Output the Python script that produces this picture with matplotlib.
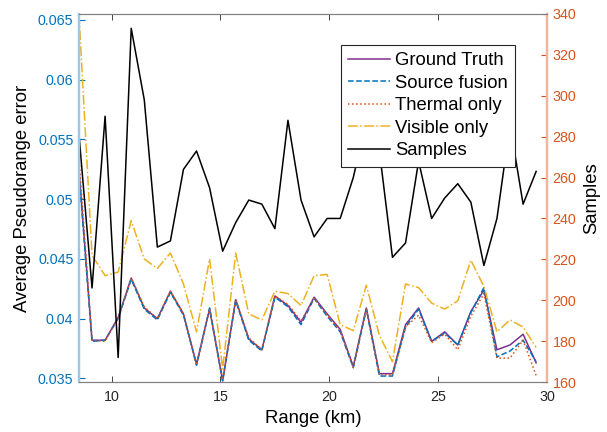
import numpy as np
import matplotlib.pyplot as plt

plt.rcParams['font.family'] = ['Liberation Sans', 'DejaVu Sans']

# range in km
rangeKm = 8.5 + 0.6 * np.arange(36)

groundTruth = [0.0525, 0.0382, 0.0382, 0.0401, 0.0434, 0.0409, 0.0400, 0.0423, 0.0404,
               0.0362, 0.0408, 0.0348, 0.0416, 0.0383, 0.0374, 0.0419, 0.0411, 0.0397,
               0.0418, 0.0404, 0.0391, 0.0360, 0.0409, 0.0354, 0.0354, 0.0395, 0.0409,
               0.0381, 0.0389, 0.0378, 0.0406, 0.0424, 0.0374, 0.0378, 0.0387, 0.0363]
sourceFusion = [0.0522, 0.0381, 0.0382, 0.0400, 0.0433, 0.0408, 0.0399, 0.0422, 0.0403,
                0.0361, 0.0409, 0.0348, 0.0415, 0.0382, 0.0373, 0.0418, 0.0410, 0.0395,
                0.0417, 0.0402, 0.0389, 0.0359, 0.0408, 0.0352, 0.0352, 0.0393, 0.0408,
                0.0381, 0.0388, 0.0378, 0.0405, 0.0426, 0.0368, 0.0373, 0.0382, 0.0364]
thermalOnly = [0.0535, 0.0382, 0.0381, 0.0401, 0.0434, 0.0410, 0.0400, 0.0423, 0.0404,
               0.0361, 0.0408, 0.0349, 0.0416, 0.0384, 0.0374, 0.0419, 0.0412, 0.0398,
               0.0417, 0.0403, 0.0390, 0.0359, 0.0408, 0.0353, 0.0353, 0.0393, 0.0403,
               0.0380, 0.0387, 0.0374, 0.0402, 0.0421, 0.0367, 0.0367, 0.0382, 0.03525]
visibleOnly = [0.0655, 0.0453, 0.0436, 0.0439, 0.0482, 0.0450, 0.0442, 0.0455, 0.0429,
               0.0389, 0.0450, 0.0358, 0.0455, 0.0404, 0.0399, 0.0423, 0.0421, 0.0411,
               0.0436, 0.0437, 0.0395, 0.0390, 0.0428, 0.0386, 0.0364, 0.0429, 0.0426,
               0.0413, 0.0408, 0.0415, 0.0449, 0.0427, 0.0389, 0.0399, 0.0393, 0.0376]
samples = [281, 206, 290, 172, 333, 298, 226, 229, 264, 273, 255, 224, 238, 249, 247, 235,
           288, 249, 231, 240, 240, 260, 288, 273, 221, 228, 268, 240, 250, 257, 248, 217,
           240, 286, 247, 263]

leftColor = '#0072BD'
rightColor = '#D95319'

fig = plt.figure(figsize=(6.07, 4.32), dpi=100)
ax = fig.add_axes([0.1301, 0.1157, 0.7711, 0.8519])

l1, = ax.plot(rangeKm, groundTruth, '-', color='#7E2F8E', lw=1.1, label='Ground Truth')
l2, = ax.plot(rangeKm, sourceFusion, '--', color='#0072BD', lw=1.1, label='Source fusion')
l3, = ax.plot(rangeKm, thermalOnly, ':', color='#D95319', lw=1.1, label='Thermal only')
l4, = ax.plot(rangeKm, visibleOnly, '-.', color='#EDB120', lw=1.1, label='Visible only')
ax.set_xlim(8.5, 30)
ax.set_ylim(0.0347, 0.0655)
ax.set_yticks([0.035, 0.04, 0.045, 0.05, 0.055, 0.06, 0.065])
ax.set_yticklabels(['0.035', '0.04', '0.045', '0.05', '0.055', '0.06', '0.065'])
ax.set_xticks([10, 15, 20, 25, 30])
ax.set_xlabel('Range (km)', fontsize=13.3)
ax.set_ylabel('Average Pseudorange error', fontsize=13.3, labelpad=5)

ax2 = ax.twinx()
l5, = ax2.plot(rangeKm, samples, '-', color='black', lw=1.1, label='Samples')
ax2.set_ylim(160, 340)
ax2.set_yticks(np.arange(160, 341, 20))
ax2.set_ylabel('Samples', fontsize=13.3, labelpad=5)

ax.tick_params(axis='x', direction='in', top=True, labelsize=10.3, colors='#262626',
               length=4, width=0.6, pad=6)
ax.tick_params(axis='y', direction='in', labelsize=10.3, colors=leftColor, length=4,
               width=0.8, pad=4)
ax2.tick_params(axis='y', direction='in', labelsize=10.3, colors=rightColor, length=4,
                width=0.8, pad=4)

for a in (ax, ax2):
    a.spines['top'].set_color('#808080')
    a.spines['bottom'].set_color('#808080')
    a.spines['top'].set_linewidth(0.8)
    a.spines['bottom'].set_linewidth(0.8)
    a.spines['left'].set_color('#9DC6E6')
    a.spines['left'].set_linewidth(1.6)
    a.spines['right'].set_color('#F2B49A')
    a.spines['right'].set_linewidth(1.6)

leg = ax2.legend(handles=[l1, l2, l3, l4, l5], loc='upper right',
                 bbox_to_anchor=(0.932, 0.916), borderaxespad=0, fontsize=13.3,
                 handlelength=2.3, handletextpad=0.25, labelspacing=0.3,
                 borderpad=0.4, fancybox=False, framealpha=1, edgecolor='#262626')
leg.get_frame().set_linewidth(0.8)

fig.savefig('out.png', dpi=100)
